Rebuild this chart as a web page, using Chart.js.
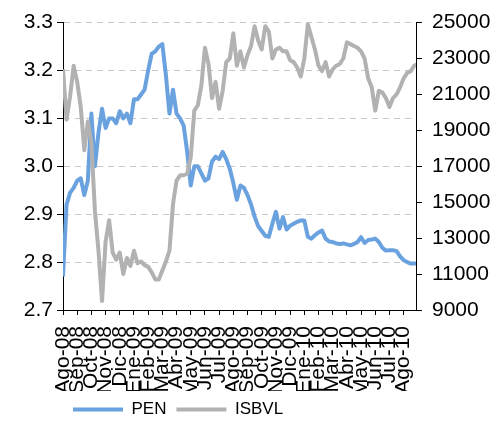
<!DOCTYPE html>
<html>
<head>
<meta charset="utf-8">
<script src="https://cdn.jsdelivr.net/npm/chart.js@4/dist/chart.umd.min.js"></script>
<style>
  html, body { margin: 0; padding: 0; background: #fff; }
  canvas { display: block; }
</style>
</head>
<body>
<canvas id="chart" width="504" height="421"></canvas>
<script>
// month tick labels (one per month, Ago-08 .. Ago-10)
const monthLabels = [
  "Ago-08", "Sep-08", "Oct-08", "Nov-08", "Dic-08", "Ene-09", "Feb-09", "Mar-09",
  "Abr-09", "May-09", "Jun-09", "Jul-09", "Ago-09", "Sep-09", "Oct-09", "Nov-09",
  "Dic-09", "Ene-10", "Feb-10", "Mar-10", "Abr-10", "May-10", "Jun-10", "Jul-10", "Ago-10"
];

// about one reading per week (4 per month)
const samplesPerMonth = 4;

const penValues = [
  2.77, 2.92, 2.945, 2.955, 2.97, 2.975, 2.94, 2.97, 3.11, 3.0,
  3.07, 3.12, 3.08, 3.10, 3.10, 3.09, 3.115, 3.10, 3.11, 3.09,
  3.14, 3.14, 3.15, 3.16, 3.20, 3.235, 3.24, 3.25, 3.255, 3.19,
  3.11, 3.16, 3.11, 3.10, 3.085, 3.03, 2.96, 3.0, 3.0, 2.985,
  2.97, 2.975, 3.01, 3.02, 3.015, 3.03, 3.015, 2.995, 2.965, 2.93,
  2.96, 2.955, 2.94, 2.92, 2.895, 2.875, 2.865, 2.855, 2.853, 2.88,
  2.905, 2.87, 2.894, 2.868, 2.876, 2.88, 2.884, 2.887, 2.887, 2.853,
  2.849, 2.856, 2.862, 2.866, 2.849, 2.843, 2.842, 2.839, 2.838, 2.839,
  2.837, 2.835, 2.838, 2.842, 2.852, 2.840, 2.846, 2.847, 2.849, 2.842,
  2.83, 2.824, 2.825, 2.825, 2.823, 2.812, 2.804, 2.80, 2.797, 2.797,
  2.797
];

const isbvlValues = [
  22400, 19600, 20900, 22600, 21700, 20300, 17900, 19500, 18300, 14500,
  12300, 9500, 12800, 14000, 12200, 11800, 12200, 11000, 11900, 11450,
  12300, 11600, 11700, 11500, 11400, 11100, 10700, 10700, 11200, 11700,
  12300, 14900, 16200, 16500, 16500, 16600, 17500, 20100, 20400, 21500,
  23600, 22700, 20800, 21700, 20200, 21200, 22800, 23000, 24400, 22600,
  23400, 22500, 23200, 23700, 24800, 24000, 23500, 24800, 24500, 23000,
  23500, 23600, 23400, 23400, 22900, 22800, 22500, 22000, 23000, 24900,
  24200, 23500, 22600, 22300, 22800, 22000, 22400, 22600, 22700, 23000,
  23900, 23800, 23700, 23600, 23400, 23000, 21900, 21400, 20100, 21200,
  21100, 20800, 20300, 20800, 21000, 21400, 21900, 22200, 22300, 22600,
  22700
];

const penColor = "#6aa2e0";
const isbvlColor = "#b2b2b2";

function toPoints(values) {
  return values.map((v, i) => ({ x: i / samplesPerMonth, y: v }));
}

Chart.defaults.font.family = "'Liberation Sans', Arial, sans-serif";
Chart.defaults.color = "#000";

const ctx = document.getElementById("chart").getContext("2d");
new Chart(ctx, {
  type: "line",
  data: {
    datasets: [
      {
        label: "PEN",
        data: toPoints(penValues),
        yAxisID: "y",
        borderColor: penColor,
        backgroundColor: penColor,
        borderWidth: 4,
        pointRadius: 0,
        borderJoinStyle: "round",
        order: 1,
      },
      {
        label: "ISBVL",
        data: toPoints(isbvlValues),
        yAxisID: "y1",
        borderColor: isbvlColor,
        backgroundColor: isbvlColor,
        borderWidth: 4,
        pointRadius: 0,
        borderJoinStyle: "round",
        order: 0,
      },
    ],
  },
  options: {
    responsive: false,
    animation: false,
    layout: { padding: { top: 22, right: 0, left: 0, bottom: -7 } },
    scales: {
      x: {
        type: "linear",
        min: 0,
        max: 24.87,
        afterFit: (scale) => { scale.height = 81; },
        ticks: {
          stepSize: 1,
          autoSkip: false,
          includeBounds: false,
          minRotation: 90,
          maxRotation: 90,
          padding: 11,
          font: { size: 21 },
          callback: (v) => monthLabels[v] ?? "",
        },
        grid: { drawOnChartArea: false, tickLength: 5, tickColor: "#000" },
        border: { color: "#000", width: 1 },
      },
      y: {
        position: "left",
        min: 2.7,
        max: 3.3,
        afterFit: (scale) => { scale.width = 63; },
        ticks: {
          stepSize: 0.1,
          padding: 4,
          font: { size: 21 },
          callback: (v) => v.toFixed(1),
        },
        grid: { color: "#c8c8c8", lineWidth: 1, tickLength: 6, tickColor: "#000", tickBorderDash: [] },
        border: { color: "#000", width: 1, dash: [6, 5] },
      },
      y1: {
        position: "right",
        min: 9000,
        max: 25000,
        afterFit: (scale) => { scale.width = 88; },
        ticks: {
          stepSize: 2000,
          padding: 10,
          font: { size: 21 },
          callback: (v) => String(v),
        },
        grid: { drawOnChartArea: false, tickLength: 6, tickColor: "#000" },
        border: { color: "#000", width: 1 },
      },
    },
    plugins: {
      tooltip: { enabled: false },
      legend: {
        position: "bottom",
        align: "start",
        fullSize: false,
        labels: {
          boxWidth: 50,
          boxHeight: 4,
          padding: 10,
          font: { size: 17 },
          sort: (a, b) => a.datasetIndex - b.datasetIndex,
          generateLabels: (chart) =>
            Chart.defaults.plugins.legend.labels.generateLabels(chart).map((item) => ({ ...item, lineWidth: 0 })),
        },
      },
    },
  },
});
</script>
</body>
</html>
